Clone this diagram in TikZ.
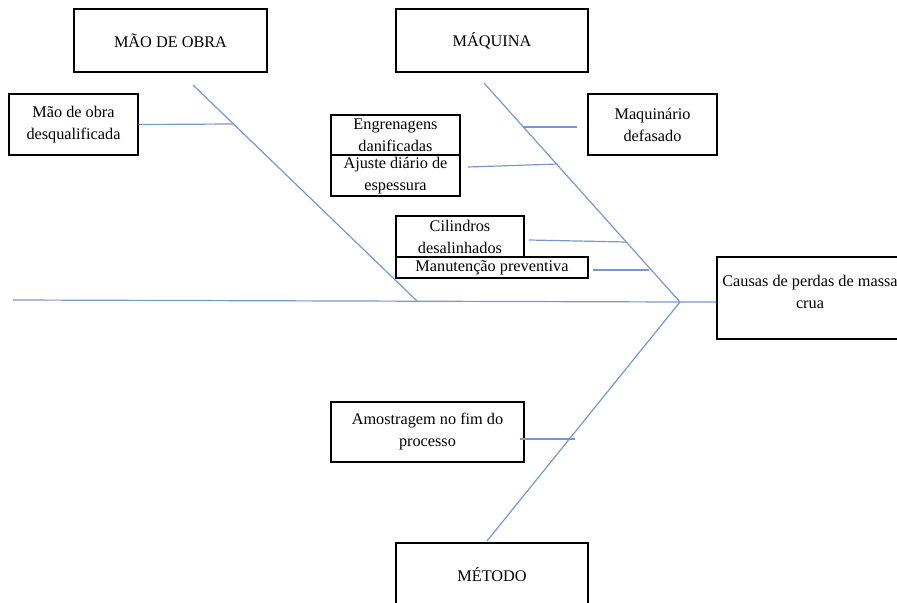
\documentclass[tikz,border=0pt]{standalone}
\usepackage{fontspec}
\setmainfont{Liberation Serif}
\newfontfamily\tnr{Liberation Serif}
\definecolor{bone}{RGB}{120,152,205}
\begin{document}
\begin{tikzpicture}[x=0.75pt,y=-0.75pt,
  cbox/.style={draw=black, line width=0.9pt, align=center, inner sep=0pt,
    font=\tnr\fontsize{12.2}{16.5}\selectfont},
  sz/.style 2 args={minimum width=#1*0.75pt, minimum height=#2*0.75pt},
  boneline/.style={draw=bone, line width=0.9pt}]
\useasboundingbox (0,0) rectangle (897,603);
\clip (0,0) rectangle (897,603);
% category boxes
\node[cbox, sz={193}{63}] (mao) at (170.5,40.5) {MÃO DE OBRA};
\node[cbox, sz={192}{63}] (maq) at (492,40.5) {MÁQUINA};
\node[cbox, sz={192}{63}] (met) at (492,574.5) {MÉTODO};
\node[cbox, sz={186}{82}] (causa) at (810,298) {};
\node[font=\tnr\fontsize{12.2}{16.5}\selectfont, align=center, inner sep=0pt] (causatxt) at (810,291.5) {Causas de perdas de massa\\crua};
% cause boxes
\node[cbox, sz={129}{61}] (mdq) at (73.5,124.5) {Mão de obra\\desqualificada};
\node[cbox, sz={129}{40}] (eng) at (395.5,135) {Engrenagens\\danificadas};
\node[cbox, sz={129}{41}] (aju) at (395.5,175.5) {Ajuste diário de\\espessura};
\node[cbox, sz={128}{41}] (cil) at (460,236.5) {Cilindros\\desalinhados};
\node[cbox, sz={192}{21}] (man) at (492,267.5) {Manutenção preventiva};
\node[cbox, sz={129}{61}] (maqd) at (652.5,124.5) {Maquinário\\defasado};
\node[cbox, sz={193}{60}] (amo) at (427.5,432) {Amostragem no fim do\\processo};
% skeleton coordinates
\coordinate (s0) at (13,300);
\coordinate (head) at (680,302);
\coordinate (b1a) at (193,85);
\coordinate (b1b) at (417,301);
\coordinate (q0) at (484,83);
\coordinate (m0) at (487,541);
\coordinate (r1) at (233,124);
\coordinate (qa1) at (523,127);  \coordinate (qa2) at (577,127);
\coordinate (qb1) at (468,167);  \coordinate (qb2) at (558,164);
\coordinate (qc1) at (529,240);  \coordinate (qc2) at (626,242);
\coordinate (qd1) at (593,270);  \coordinate (qd2) at (649,270);
\coordinate (ma1) at (520,439);  \coordinate (ma2) at (575,439);
% spine and bones
\draw[boneline] (s0) -- (head) -- (head -| causa.west);
\draw[boneline] (b1a) -- (b1b);
\draw[boneline] (q0) -- (head);
\draw[boneline] (m0) -- (head);
% branches
\draw[boneline] (mdq.east) -- (r1);
\draw[boneline] (qa1) -- (qa2);
\draw[boneline] (qb1) -- (qb2);
\draw[boneline] (qc1) -- (qc2);
\draw[boneline] (qd1) -- (qd2);
\draw[boneline] (ma1) -- (ma2);
\end{tikzpicture}
\end{document}
